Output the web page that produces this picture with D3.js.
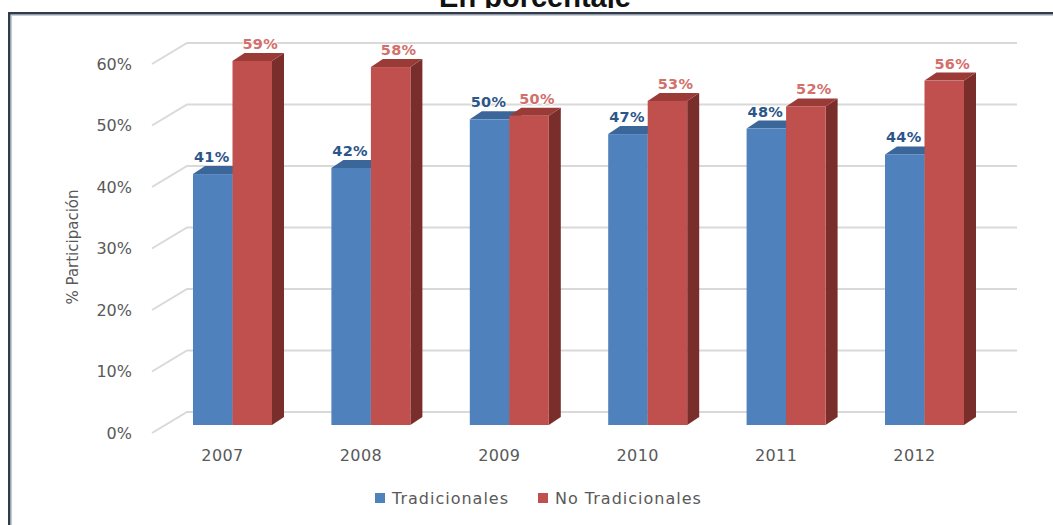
<!DOCTYPE html>
<html>
<head>
<meta charset="utf-8">
<script src="https://cdn.jsdelivr.net/npm/d3@7"></script>
<style>
  html, body { margin: 0; padding: 0; background: #ffffff; }
  svg { display: block; }
</style>
</head>
<body>
<svg id="chart" width="1053" height="525"></svg>
<script>
// ---- data ----
const categories = ["2007", "2008", "2009", "2010", "2011", "2012"];
const seriesNames = ["Tradicionales", "No Tradicionales"];
const tradicionales = [40.8, 41.8, 49.7, 47.3, 48.2, 44.0];
const noTradicionales = [59.2, 58.2, 50.3, 52.7, 51.8, 56.0];
const yTicks = [0, 10, 20, 30, 40, 50, 60];
const yTickLabels = ["0%", "10%", "20%", "30%", "40%", "50%", "60%"];
const titleText = "En porcentaje";
const yAxisTitle = "% Participación";

// ---- styles ----
const seriesFront = ["#4f81bd", "#c0504d"];
const seriesTop = ["#3b6699", "#9a3b38"];
const seriesSide = ["#35587f", "#7a2e2b"];
const labelColors = ["#2c5689", "#d2706b"];
const textGray = "#595959";
const gridColor = "#d9d9d9";

const svg = d3.select("#chart");

// title (partly clipped by the frame region, as in the reference)
svg.append("text")
  .attr("x", 535).attr("y", 7)
  .attr("text-anchor", "middle")
  .attr("font-family", "Liberation Sans, Arial, sans-serif")
  .attr("font-weight", "bold")
  .attr("font-size", 29)
  .attr("fill", "#111")
  .text(titleText);
svg.append("rect").attr("x", 0).attr("y", 8).attr("width", 1053).attr("height", 5).attr("fill", "#fff");

// frame
svg.append("rect")
  .attr("x", 9.25).attr("y", 13.25).attr("width", 1100).attr("height", 600)
  .attr("fill", "#fff").attr("stroke", "#2f3b4f").attr("stroke-width", 2.5);
svg.append("path")
  .attr("d", "M11.5,600 L11.5,15.5 L1100,15.5")
  .attr("fill", "none").attr("stroke", "#c9ccd1").attr("stroke-width", 1.2);

// ---- scales ----
const yBack = d3.scaleLinear().domain([0, 60]).range([412, 43]);
const yFront = d3.scaleLinear().domain([0, 60]).range([425, 56]);
const xCenter = d3.scalePoint().domain(categories).range([232.5, 924.5]);
const xSeries = d3.scaleBand().domain(seriesNames).range([-39.5, 39.5]);

const sideDx = 35, sideDy = 21;   // depth of side wall
const barDx = 12, barDy = 8;      // depth of bars
const wallLeft = 187, wallRight = 1017;

// gridlines (side wall diagonal + back wall)
const grid = svg.append("g");
yTicks.forEach(t => {
  const yb = yBack(t);
  grid.append("path")
    .attr("d", `M${wallLeft - sideDx},${yb + sideDy} L${wallLeft},${yb} L${wallRight},${yb}`)
    .attr("fill", "none").attr("stroke", gridColor).attr("stroke-width", 2);
});

// y tick labels
svg.append("g").selectAll("text").data(yTicks).join("text")
  .attr("x", 132)
  .attr("y", d => yBack(d) + sideDy)
  .attr("dy", "0.36em")
  .attr("text-anchor", "end")
  .attr("font-family", "DejaVu Sans, Verdana, sans-serif")
  .attr("font-size", 16)
  .attr("fill", textGray)
  .text((d, i) => yTickLabels[i]);

// y axis title
svg.append("text")
  .attr("transform", "translate(78,247) rotate(-90)")
  .attr("text-anchor", "middle")
  .attr("font-family", "DejaVu Sans, Verdana, sans-serif")
  .attr("font-size", 15)
  .attr("fill", textGray)
  .text(yAxisTitle);

// bars
const allSeries = [tradicionales, noTradicionales];
const barsG = svg.append("g");
categories.forEach((cat, ci) => {
  seriesNames.forEach((s, si) => {
    const v = allSeries[si][ci];
    const x0 = xCenter(cat) + xSeries(s);
    const x1 = x0 + xSeries.bandwidth();
    const yt = yFront(v);
    const yb = yFront(0);
    barsG.append("path")
      .attr("d", `M${x1},${yt} L${x1 + barDx},${yt - barDy} L${x1 + barDx},${yb - barDy} L${x1},${yb} Z`)
      .attr("fill", seriesSide[si]);
    barsG.append("path")
      .attr("d", `M${x0},${yt} L${x0 + barDx},${yt - barDy} L${x1 + barDx},${yt - barDy} L${x1},${yt} Z`)
      .attr("fill", seriesTop[si]);
    barsG.append("rect")
      .attr("x", x0).attr("y", yt)
      .attr("width", x1 - x0).attr("height", yb - yt)
      .attr("fill", seriesFront[si]);
  });
});

// data labels
const labelOffsets = [-1, 8];
const labelsG = svg.append("g");
categories.forEach((cat, ci) => {
  seriesNames.forEach((s, si) => {
    const v = allSeries[si][ci];
    const cx = xCenter(cat) + xSeries(s) + xSeries.bandwidth() / 2 + labelOffsets[si];
    labelsG.append("text")
      .attr("x", cx)
      .attr("y", yFront(v) - barDy - 4)
      .attr("text-anchor", "middle")
      .attr("font-family", "DejaVu Sans, Verdana, sans-serif")
      .attr("font-weight", "bold")
      .attr("font-size", 14.5)
      .attr("letter-spacing", 0.3)
      .attr("fill", labelColors[si])
      .attr("stroke", "#ffffff").attr("stroke-width", 1.5)
      .attr("paint-order", "stroke")
      .text(Math.round(v) + "%");
  });
});

// category labels
svg.append("g").selectAll("text").data(categories).join("text")
  .attr("x", d => xCenter(d) - 10)
  .attr("y", 461)
  .attr("text-anchor", "middle")
  .attr("font-family", "DejaVu Sans, Verdana, sans-serif")
  .attr("font-size", 16)
  .attr("letter-spacing", 0.4)
  .attr("fill", textGray)
  .text(d => d);

// legend
const legendX = [375, 538];
const legend = svg.append("g");
seriesNames.forEach((s, i) => {
  legend.append("rect")
    .attr("x", legendX[i]).attr("y", 493)
    .attr("width", 10).attr("height", 10)
    .attr("fill", seriesFront[i]);
  legend.append("text")
    .attr("x", legendX[i] + 17).attr("y", 504)
    .attr("font-family", "DejaVu Sans, Verdana, sans-serif")
    .attr("font-size", 16)
    .attr("letter-spacing", 1)
    .attr("fill", textGray)
    .text(s);
});
</script>
</body>
</html>
